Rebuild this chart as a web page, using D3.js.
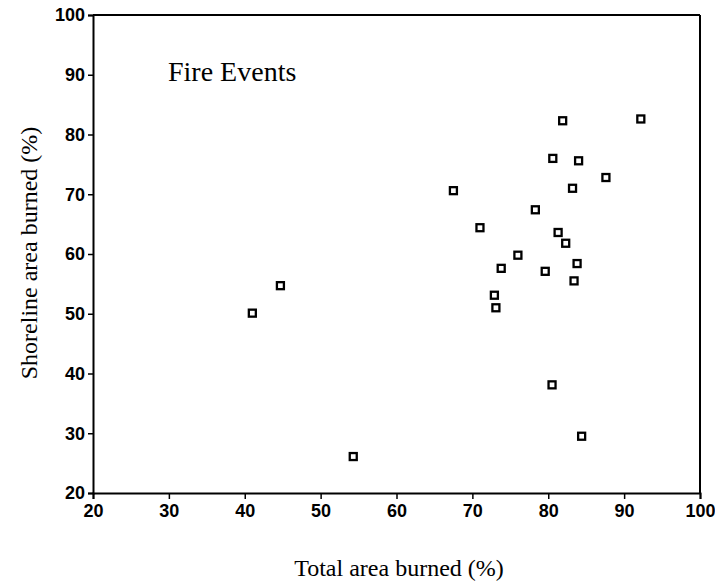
<!DOCTYPE html>
<html>
<head>
<meta charset="utf-8">
<script src="https://cdn.jsdelivr.net/npm/d3@7"></script>
<style>
  body { margin: 0; background: #fff; }
  .label { font-family: "Liberation Serif", "Times New Roman", serif; fill: #000; }
</style>
</head>
<body>
<div id="chart"></div>
<script>
(function(d3) {
  'use strict';

  // total area burned (%) per fire event
  var totalBurned = [81.9, 92.2, 80.6, 84.0, 87.6, 67.5, 83.2, 78.3, 71.0, 81.3, 82.3, 76.0,
                     73.8, 79.6, 83.8, 83.4, 72.9, 73.1, 80.5, 84.4, 44.7, 41.0, 54.3];
  // shoreline area burned (%) for the same events
  var shoreBurned = [82.3, 82.6, 76.0, 75.6, 72.8, 70.6, 71.0, 67.4, 64.4, 63.6, 61.8, 59.8,
                     57.6, 57.1, 58.4, 55.5, 53.1, 51.0, 38.1, 29.5, 54.7, 50.1, 26.1];
  var xTicks = [20, 30, 40, 50, 60, 70, 80, 90, 100];
  var yTicks = [20, 30, 40, 50, 60, 70, 80, 90, 100];

  var width = 715, height = 587;
  var left = 93, right = 700, top = 15, bottom = 493;

  var svg = d3.select('#chart').append('svg')
    .attr('width', width)
    .attr('height', height);

  var x = d3.scaleLinear().domain([20, 100]).range([left, right]);
  var y = d3.scaleLinear().domain([20, 100]).range([bottom, top]);

  var xAxis = svg.append('g')
    .attr('transform', 'translate(0,' + bottom + ')')
    .call(d3.axisBottom(x).tickValues(xTicks).tickSize(6).tickPadding(5));

  var yAxis = svg.append('g')
    .attr('transform', 'translate(' + left + ',0)')
    .call(d3.axisLeft(y).tickValues(yTicks).tickSize(5).tickPadding(3));

  [xAxis, yAxis].forEach(function(ax) {
    ax.attr('font-family', 'Liberation Sans, Arial, sans-serif')
      .attr('font-size', 18)
      .attr('font-weight', 'bold');
    ax.select('.domain').attr('stroke', '#000').attr('stroke-width', 2);
    ax.selectAll('.tick line').attr('stroke', '#000').attr('stroke-width', 1.5);
    ax.selectAll('.tick text').attr('fill', '#000');
  });

  // frame top and right
  svg.append('line')
    .attr('x1', left).attr('x2', right).attr('y1', top).attr('y2', top)
    .attr('stroke', '#000').attr('stroke-width', 2);
  svg.append('line')
    .attr('x1', right).attr('x2', right).attr('y1', top).attr('y2', bottom)
    .attr('stroke', '#000').attr('stroke-width', 2);

  var pts = totalBurned.map(function(v, i) { return { x: v, y: shoreBurned[i] }; });
  var s = 7;
  svg.append('g').selectAll('rect').data(pts).enter().append('rect')
    .attr('x', function(d) { return x(d.x) - s / 2; })
    .attr('y', function(d) { return y(d.y) - s / 2; })
    .attr('width', s)
    .attr('height', s)
    .attr('fill', '#fff')
    .attr('stroke', '#000')
    .attr('stroke-width', 2.3);

  svg.append('text')
    .attr('class', 'label')
    .attr('x', 168)
    .attr('y', 81)
    .style('font-size', '28px')
    .text('Fire Events');

  svg.append('text')
    .attr('class', 'label')
    .attr('x', 399)
    .attr('y', 576)
    .attr('text-anchor', 'middle')
    .style('font-size', '24px')
    .text('Total area burned (%)');

  svg.append('text')
    .attr('class', 'label')
    .attr('transform', 'translate(37,253) rotate(-90)')
    .attr('text-anchor', 'middle')
    .style('font-size', '24px')
    .text('Shoreline area burned (%)');
}(d3));
</script>
</body>
</html>
